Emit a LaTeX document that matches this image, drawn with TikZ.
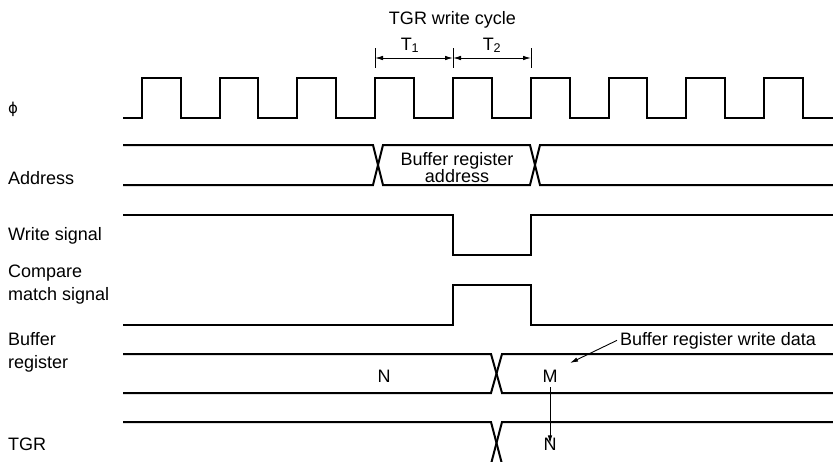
\documentclass[tikz,border=0pt]{standalone}
\usepackage{fontspec}
\setmainfont{Liberation Sans}
\newfontfamily\phifont{DejaVu Sans}
\usetikzlibrary{arrows.meta}
\begin{document}
\begin{tikzpicture}[x=1pt,y=-1pt,
  font=\fontsize{18}{23}\selectfont,
  sig/.style={line width=2pt, line join=miter},
  lbl/.style={anchor=base west, inner sep=0pt, align=left},
  txt/.style={anchor=base, inner sep=0pt},
  tip/.style={Latex[length=8pt,width=4.5pt]},
  dim/.style={line width=0.9pt, {Latex[length=8pt,width=4.5pt]}-{Latex[length=8pt,width=4.5pt]}},
  tickline/.style={line width=0.9pt},
  lead/.style={line width=0.9pt, -{Latex[length=8pt,width=4.5pt]}}]
\useasboundingbox (0,0) rectangle (833,461);

% signal labels
\node[lbl] (phi) at (8,113) {\phifont\fontsize{15}{15}\selectfont ϕ};
\node[lbl] (address) at (8,184) {Address};
\node[lbl] (write) at (8,240) {Write signal};
\node[lbl] (compare) at (8,300) {Compare\\match signal};
\node[lbl] (bufreg) at (8,368) {Buffer\\register};
\node[lbl] (tgr) at (8,450) {TGR};

% clock
\draw[sig] (123,118)
  \foreach \k in {0,...,8}{
    -- ({141.8+77.8*\k},118) -- ({141.8+77.8*\k},78)
    -- ({180.6+77.8*\k},78) -- ({180.6+77.8*\k},118)}
  -- (833,118);

% address bus
\draw[sig] (123,145) -- (373,145) -- (383,185) -- (530,185) -- (540,145) -- (833,145);
\draw[sig] (123,185) -- (373,185) -- (383,145) -- (530,145) -- (540,185) -- (833,185);
\node[txt] (bra1) at (457,165) {Buffer register};
\node[txt] (bra2) at (457,182) {address};

% write signal
\draw[sig] (123,215) -- (453,215) -- (453,255) -- (531,255) -- (531,215) -- (833,215);

% compare match
\draw[sig] (123,325) -- (453,325) -- (453,285) -- (531,285) -- (531,325) -- (833,325);

% buffer register
\draw[sig] (123,354) -- (491,354) -- (502,393) -- (833,393);
\draw[sig] (123,393) -- (491,393) -- (502,354) -- (833,354);
\node[txt] (bn) at (384,382) {N};
\node[txt] (bm) at (550,382) {M};

% TGR
\draw[sig] (123,422) -- (491,422) -- (502,464) -- (833,464);
\draw[sig] (123,464) -- (491,464) -- (502,422) -- (833,422);
\node[txt] (tn) at (550,450) {N};

\draw[lead] (bm.south) ++(0,5) coordinate (ms) -- ([yshift=-6pt]tn.north);

% write data annotation
\node[lbl] (wd) at (620,345) {Buffer register write data};
\coordinate (wdtip) at (570,363);
\draw[lead] ([xshift=-3pt]wd.west) -- (wdtip);

% cycle dimensioning
\node[txt] (title) at (452.5,24) {TGR write cycle};
\node[txt] (t1) at (410,50) {T\textsubscript{1}};
\node[txt] (t2) at (492,50) {T\textsubscript{2}};
\coordinate (ka) at (375,48); \coordinate (kA) at (375,68);
\coordinate (kb) at (453,48); \coordinate (kB) at (453,68);
\coordinate (kc) at (531,48); \coordinate (kC) at (531,68);
\draw[tickline] (ka) -- (kA);
\draw[tickline] (kb) -- (kB);
\draw[tickline] (kc) -- (kC);
\coordinate (da) at (375,58); \coordinate (db) at (453,58); \coordinate (dc) at (531,58);
\draw[dim] (da) -- (db);
\draw[dim] (db) -- (dc);
\end{tikzpicture}
\end{document}
